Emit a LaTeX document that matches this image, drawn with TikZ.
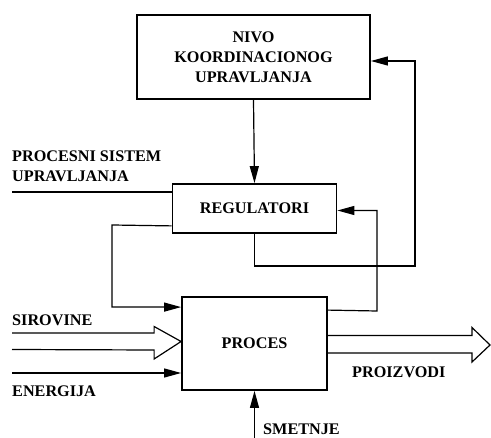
\documentclass[tikz,border=0pt]{standalone}
\usepackage{fontspec}
\setmainfont{Liberation Serif}
\usetikzlibrary{arrows.meta,calc}

\begin{document}
\begin{tikzpicture}[x=1pt,y=-1pt,
  every node/.style={font=\bfseries\fontsize{16.2}{20}\selectfont},
  block/.style={draw,line width=1.8pt,inner sep=0pt,align=center},
  wire/.style={line width=1.2pt},
  arr/.style={wire,-{Triangle[length=17pt,width=9pt]}},
  fat/.style={line width=1.2pt,line join=miter},
  lbl/.style={inner sep=0pt,anchor=base west,align=left}]
\useasboundingbox (0,0) rectangle (491,438);

% blocks
\node[block,minimum width=233pt,minimum height=84pt] (top) at (253.5,57)
  {NIVO\\KOORDINACIONOG\\UPRAVLJANJA};
\node[block,minimum width=164pt,minimum height=49pt] (reg) at (254.5,208.5)
  {REGULATORI};
\node[block,minimum width=145pt,minimum height=93pt] (proc) at (254.5,343.5)
  {PROCES};

% labels (base anchor of a two-line label sits on its last line)
\node[lbl] (ps) at (12,182) {PROCESNI SISTEM\\UPRAVLJANJA};
\node[lbl] (sir) at (12,326) {SIROVINE};
\node[lbl] (ene) at (12,397) {ENERGIJA};
\node[lbl] (pro) at (352,378) {PROIZVODI};
\node[lbl] (sme) at (263,435) {SMETNJE};

% helper points
\coordinate (psL) at (12,192);
\coordinate (enL) at (12,373);
\coordinate (smB) at (254.5,438);
\coordinate (fbR) at (415,266);
\coordinate (fbP) at (377,311);
\coordinate (ctlL) at (112,225);

% connectors
\draw[arr] (top.south) -- (reg.north);
\draw[arr] (reg.south) |- (fbR) |- ([yshift=-4pt]top.east);
\draw[arr] ([yshift=-14pt]proc.north east) -- (fbP) |- ([yshift=-2pt]reg.east);
\draw[arr] ([yshift=8pt]reg.south west) -- (ctlL) |- ([yshift=-11pt]proc.north west);
\draw[wire] (psL) -- (psL -| reg.west);
\draw[arr] (enL) -- (enL -| proc.west);
\draw[arr] (smB) -- (proc.south);

% hollow material arrows
\draw[fat] (12,333) -- ($(proc.west)+(-27,-10.5)$) -- ++(0,-6.5)
  -- ($(proc.west)+(0,-2)$) -- ($(proc.west)+(-27,15.5)$) -- ++(0,-9)
  -- (12,349.5);
\draw[fat] ($(proc.east)+(0,-8)$) -- (472,335.5) -- (472,327.5) -- (490,345)
  -- (472,362) -- (472,353) -- ($(proc.east)+(0,9.5)$);
\end{tikzpicture}
\end{document}
